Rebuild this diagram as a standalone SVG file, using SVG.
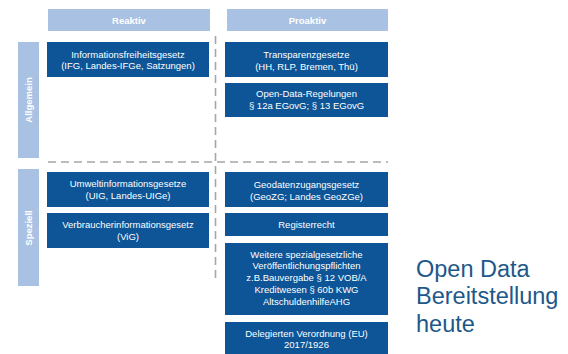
<svg xmlns="http://www.w3.org/2000/svg" width="568" height="354" viewBox="0 0 568 354">
<style>
.hdr{fill:#a9c2e4}
.box{fill:#0d5597}
.bt{font-family:"Liberation Sans",Arial,sans-serif;font-size:9.5px;fill:#ffffff;text-anchor:middle}
.ht{font-family:"Liberation Sans",Arial,sans-serif;font-size:9.5px;font-weight:bold;fill:#ffffff;text-anchor:middle}
.dash{stroke:#a6a6a6;stroke-width:1.6;stroke-dasharray:8 5;fill:none}
.big{font-family:"Liberation Sans",Arial,sans-serif;font-size:23.5px;fill:#1d5889}
</style>
<rect width="568" height="354" fill="#ffffff"/>
<g id="connectors">
<line class="dash" x1="215.5" y1="36" x2="215.5" y2="280"/>
<line class="dash" x1="48" y1="162" x2="388" y2="162"/>
</g>
<g id="reaktiv"><rect class="hdr" x="48" y="9" width="162" height="22"/><text class="ht" x="129" y="23.5">Reaktiv</text></g>
<g id="proaktiv"><rect class="hdr" x="227" y="9" width="161" height="22"/><text class="ht" x="307.5" y="23.5">Proaktiv</text></g>
<g id="allgemein"><rect class="hdr" x="18" y="42" width="21" height="116"/><text class="ht" transform="translate(32,100) rotate(-90)">Allgemein</text></g>
<g id="speziell"><rect class="hdr" x="18" y="169" width="21" height="117"/><text class="ht" transform="translate(32,228) rotate(-90)">Speziell</text></g>
<g id="ifg"><rect class="box" x="47" y="42" width="162" height="35"/><text class="bt" x="128" y="57.5">Informationsfreiheitsgesetz</text><text class="bt" x="128" y="69">(IFG, Landes-IFGe, Satzungen)</text></g>
<g id="transparenz"><rect class="box" x="225" y="42" width="163" height="35"/><text class="bt" x="306.5" y="57.5">Transparenzgesetze</text><text class="bt" x="306.5" y="69.5">(HH, RLP, Bremen, Thü)</text></g>
<g id="opendata"><rect class="box" x="225" y="83" width="163" height="34"/><text class="bt" x="306.5" y="96.5">Open-Data-Regelungen</text><text class="bt" x="306.5" y="109">§ 12a EGovG; § 13 EGovG</text></g>
<g id="uig"><rect class="box" x="47" y="172" width="162" height="35"/><text class="bt" x="128" y="186.5">Umweltinformationsgesetze</text><text class="bt" x="128" y="198.5">(UIG, Landes-UIGe)</text></g>
<g id="vig"><rect class="box" x="47" y="213" width="162" height="35"/><text class="bt" x="128" y="227.5">Verbraucherinformationsgesetz</text><text class="bt" x="128" y="240">(ViG)</text></g>
<g id="geozg"><rect class="box" x="225" y="172" width="163" height="35"/><text class="bt" x="306.5" y="187.5">Geodatenzugangsgesetz</text><text class="bt" x="306.5" y="199.5">(GeoZG; Landes GeoZGe)</text></g>
<g id="register"><rect class="box" x="225" y="213" width="163" height="23"/><text class="bt" x="306.5" y="227.5">Registerrecht</text></g>
<g id="weitere"><rect class="box" x="225" y="243" width="163" height="72"/><text class="bt" x="306.5" y="257.5">Weitere spezialgesetzliche</text><text class="bt" x="306.5" y="269">Veröffentlichungspflichten</text><text class="bt" x="306.5" y="281">z.B.Bauvergabe  § 12 VOB/A</text><text class="bt" x="306.5" y="293">Kreditwesen § 60b KWG</text><text class="bt" x="306.5" y="305">AltschuldenhilfeAHG</text></g>
<g id="delegiert"><rect class="box" x="225" y="322" width="163" height="34"/><text class="bt" x="306.5" y="336.5">Delegierten Verordnung (EU)</text><text class="bt" x="306.5" y="348">2017/1926</text></g>
<g id="title"><text class="big" x="416" y="277">Open Data</text><text class="big" x="416" y="304">Bereitstellung</text><text class="big" x="416" y="332">heute</text></g>
</svg>
